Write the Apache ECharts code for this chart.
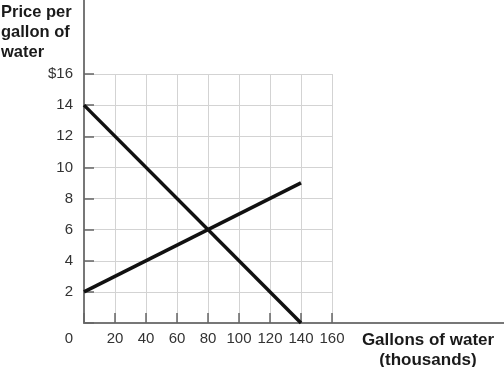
<!DOCTYPE html>
<html><head><meta charset="utf-8">
<script src="https://cdn.jsdelivr.net/npm/echarts@6/dist/echarts.min.js"></script>
<style>html,body{margin:0;padding:0;background:#fff}#c{width:504px;height:367px}</style>
</head><body><div id="c"></div>
<script>
var xTicks = [0, 20, 40, 60, 80, 100, 120, 140, 160];
var yTicks = [0, 2, 4, 6, 8, 10, 12, 14, 16];
var demand = [[0, 14], [140, 0]];
var supply = [[0, 2], [140, 9]];
var yTitle = "Price per\ngallon of\nwater";
var xTitle = "Gallons of water\n(thousands)";

var chart = echarts.init(document.getElementById('c'));
var font = 'Liberation Sans, Arial, sans-serif';
chart.setOption({
  animation: false,
  title: [{
    text: yTitle, left: 1, top: 2, padding: 0,
    textStyle: {fontFamily: font, fontSize: 16.5, fontWeight: 'bold', color: '#1a1a1a', lineHeight: 20}
  }, {
    text: xTitle, left: 428, top: 330, padding: 0, textAlign: 'center',
    textStyle: {fontFamily: font, fontSize: 17, fontWeight: 'bold', color: '#1a1a1a', lineHeight: 20, align: 'center'}
  }],
  grid: [
    {left: 84, right: 172, top: 74, bottom: 44},
    {left: 84, right: 0, top: 0, bottom: 44}
  ],
  xAxis: [{
    gridIndex: 0, type: 'value', min: xTicks[0], max: xTicks[xTicks.length - 1], interval: 20,
    axisLine: {show: false},
    axisTick: {show: true, inside: true, length: 10, lineStyle: {color: '#666', width: 1.5}},
    axisLabel: {margin: 8, fontFamily: font, fontSize: 15, color: '#333',
      formatter: function (v) { return v === 0 ? '' : String(v); }},
    splitLine: {show: true, lineStyle: {color: '#d3d3d3', width: 1}}
  }, {
    gridIndex: 1, type: 'value', min: 0, max: 1,
    axisLine: {show: true, onZero: false, lineStyle: {color: '#777', width: 2}},
    axisTick: {show: false}, axisLabel: {show: false}, splitLine: {show: false}
  }],
  yAxis: [{
    gridIndex: 0, type: 'value', min: yTicks[0], max: yTicks[yTicks.length - 1], interval: 2,
    axisLine: {show: false},
    axisTick: {show: true, inside: true, length: 10, lineStyle: {color: '#666', width: 1.5}},
    axisLabel: {margin: 11, fontFamily: font, fontSize: 15, color: '#333',
      formatter: function (v) { return v === 16 ? '$16' : (v === 0 ? '{z|0}' : String(v)); },
      rich: {z: {fontFamily: font, fontSize: 15, color: '#333', padding: [31, 0, 0, 0]}}},
    splitLine: {show: true, lineStyle: {color: '#d3d3d3', width: 1}}
  }, {
    gridIndex: 1, type: 'value', min: 0, max: 1,
    axisLine: {show: true, onZero: false, lineStyle: {color: '#777', width: 2}},
    axisTick: {show: false}, axisLabel: {show: false}, splitLine: {show: false}
  }],
  series: [{
    type: 'line', xAxisIndex: 0, yAxisIndex: 0, data: demand, symbol: 'none',
    lineStyle: {color: '#111', width: 3.5}
  }, {
    type: 'line', xAxisIndex: 0, yAxisIndex: 0, data: supply, symbol: 'none',
    lineStyle: {color: '#111', width: 3.5}
  }]
});
</script></body></html>
